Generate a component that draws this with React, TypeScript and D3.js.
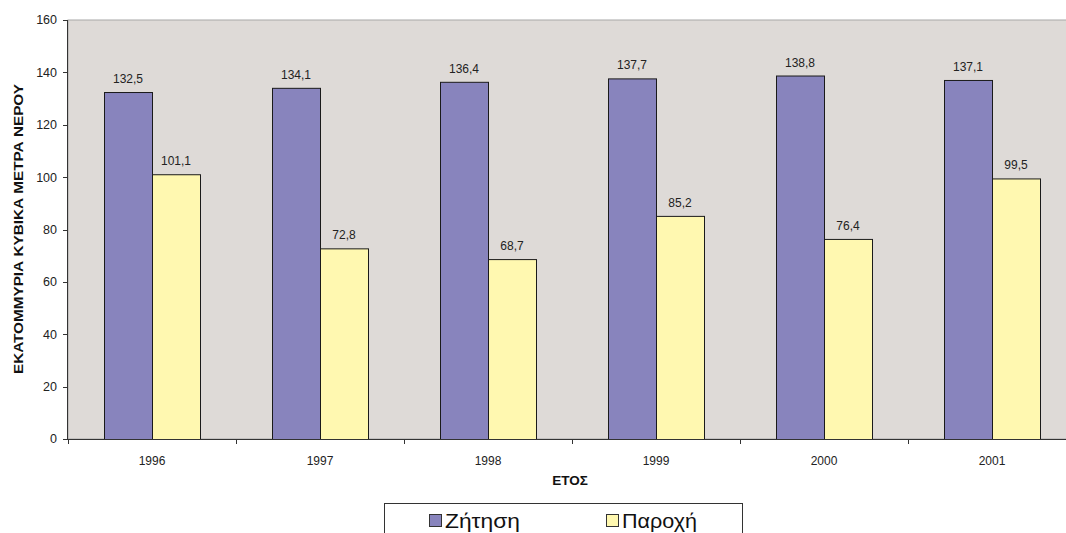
import * as d3 from "d3";

const years = ["1996", "1997", "1998", "1999", "2000", "2001"];
const demand = [132.5, 134.1, 136.4, 137.7, 138.8, 137.1];
const supply = [101.1, 72.8, 68.7, 85.2, 76.4, 99.5];
const seriesNames = ["Ζήτηση", "Παροχή"];
const yTicks = [0, 20, 40, 60, 80, 100, 120, 140, 160];

const W = 1066;
const H = 533;
const left = 68;
const top = 20;
const bottom = 439;
const band = 168;

const colors = ["#8884bd", "#fff8b0"];
const fontFam = "'Liberation Sans', Arial, sans-serif";

export default function App() {
    const x = d3
        .scaleBand<string>()
        .domain(years)
        .range([left, left + band * years.length])
        .paddingInner(0)
        .paddingOuter(0);
    const y = d3.scaleLinear().domain([0, 160]).range([bottom, top]);

    const barW = 48;
    const fmt = (v: number) => v.toFixed(1).replace(".", ",");

    const series = [demand, supply];

    return (
        <svg
            width={W}
            height={H}
            style={{ position: "absolute", left: 0, top: 0, fontFamily: fontFam }}
        >
            <rect x={0} y={0} width={W} height={H} fill="#ffffff" />
            {/* plot area */}
            <rect
                x={left}
                y={top}
                width={band * years.length}
                height={bottom - top}
                fill="#dedad7"
                stroke="#a8a8a8"
                strokeWidth={1}
            />
            {/* bars */}
            {series.map((vals, si) =>
                years.map((yr, i) => {
                    const cx = (x(yr) ?? 0) + x.bandwidth() / 2;
                    const bx = cx - barW + si * barW;
                    const v = vals[i];
                    return (
                        <g key={`${si}-${i}`}>
                            <rect
                                x={bx + 0.5}
                                y={y(v) + 0.5}
                                width={barW}
                                height={bottom - y(v)}
                                fill={colors[si]}
                                stroke="#1a1a1a"
                                strokeWidth={1}
                            />
                            <text
                                x={bx + barW / 2}
                                y={y(v) - 9}
                                textAnchor="middle"
                                fontSize={12}
                                fill="#222"
                            >
                                {fmt(v)}
                            </text>
                        </g>
                    );
                })
            )}
            {/* y axis */}
            <line x1={left - 0.5} x2={left - 0.5} y1={top} y2={bottom + 1} stroke="#333" />
            {yTicks.map((t) => (
                <g key={t}>
                    <line
                        x1={left - 5}
                        x2={left}
                        y1={Math.round(y(t)) + 0.5}
                        y2={Math.round(y(t)) + 0.5}
                        stroke="#333"
                    />
                    <text
                        x={left - 11}
                        y={y(t)}
                        dy="0.35em"
                        textAnchor="end"
                        fontSize={12.5}
                        fill="#222"
                    >
                        {t}
                    </text>
                </g>
            ))}
            {/* x axis */}
            <line x1={left - 5} x2={W} y1={bottom + 0.5} y2={bottom + 0.5} stroke="#333" />
            {years.map((yr) => (
                <g key={yr}>
                    <line
                        x1={(x(yr) ?? 0) + 0.5}
                        x2={(x(yr) ?? 0) + 0.5}
                        y1={bottom}
                        y2={bottom + 5}
                        stroke="#333"
                    />
                    <text
                        x={(x(yr) ?? 0) + x.bandwidth() / 2}
                        y={465}
                        textAnchor="middle"
                        fontSize={12}
                        fill="#222"
                    >
                        {yr}
                    </text>
                </g>
            ))}
            {/* axis titles */}
            <text
                x={570}
                y={485}
                textAnchor="middle"
                fontSize={13.5}
                fontWeight="bold"
                fill="#111"
            >
                ΕΤΟΣ
            </text>
            <text
                transform={`translate(23, 229) rotate(-90)`}
                textAnchor="middle"
                fontSize={13}
                fontWeight="bold"
                fill="#111"
                textLength={290}
                lengthAdjust="spacingAndGlyphs"
            >
                ΕΚΑΤΟΜΜΥΡΙΑ ΚΥΒΙΚΑ ΜΕΤΡΑ ΝΕΡΟΥ
            </text>
            {/* legend */}
            <rect x={384.5} y={503.5} width={358} height={40} fill="#fff" stroke="#333" />
            {seriesNames.map((name, i) => {
                const lx = i === 0 ? 429 : 606;
                return (
                    <g key={name}>
                        <rect
                            x={lx + 0.5}
                            y={514.5}
                            width={12}
                            height={12}
                            fill={colors[i]}
                            stroke="#333"
                        />
                        <text
                            x={lx + 16}
                            y={528}
                            fontSize={20}
                            fill="#111"
                            textLength={75}
                            lengthAdjust="spacingAndGlyphs"
                        >
                            {name}
                        </text>
                    </g>
                );
            })}
        </svg>
    );
}
